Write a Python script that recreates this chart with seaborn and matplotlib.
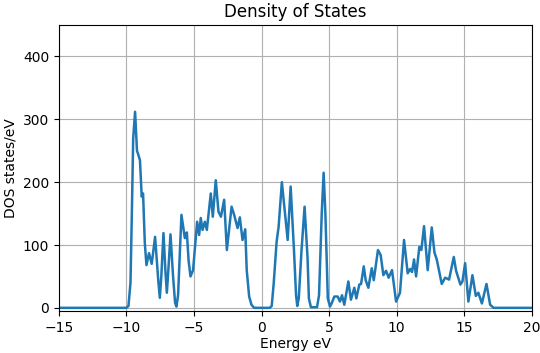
import pandas as pd
import matplotlib
matplotlib.use("Agg")
import matplotlib.pyplot as plt
import seaborn as sns

# energy grid points (eV) and DOS values
energy = [-15.0, -10.0, -9.85, -9.7, -9.6, -9.5, -9.36, -9.22, -9.14, -9.0, -8.87, -8.77,
          -8.64, -8.52, -8.33, -8.13, -7.88, -7.65, -7.53, -7.42, -7.26, -7.12, -7.01,
          -6.90, -6.74, -6.55, -6.40, -6.30, -6.18, -5.93, -5.68, -5.53, -5.40, -5.26,
          -5.07, -4.77, -4.62, -4.50, -4.37, -4.20, -4.05, -3.76, -3.61, -3.39, -3.19,
          -3.01, -2.77, -2.57, -2.22, -2.03, -1.78, -1.61, -1.41, -1.21, -1.10, -0.92,
          -0.75, -0.55, 0.6, 0.75, 0.90, 1.11, 1.26, 1.50, 1.93, 2.15, 2.40, 2.55, 2.64,
          2.75, 2.95, 3.18, 3.40, 3.50, 3.65, 4.10, 4.25, 4.45, 4.59, 4.72, 4.90, 5.06,
          5.20, 5.38, 5.63, 5.80, 5.95, 6.12, 6.42, 6.61, 6.86, 7.01, 7.23, 7.36, 7.56,
          7.70, 7.90, 8.15, 8.30, 8.61, 8.81, 9.01, 9.21, 9.40, 9.65, 9.95, 10.24, 10.54,
          10.81, 10.99, 11.13, 11.28, 11.43, 11.67, 11.82, 12.02, 12.29, 12.59, 12.79,
          12.96, 13.33, 13.58, 13.87, 14.22, 14.39, 14.71, 14.86, 15.06, 15.30, 15.60,
          15.85, 16.04, 16.30, 16.64, 16.91, 17.16, 20.0]
dos = [0, 0, 3, 40, 150, 270, 312, 250, 245, 235, 177, 182,
       103, 68, 87, 70, 113, 45, 16, 50, 119, 60, 24,
       60, 117, 50, 8, 2, 20, 148, 111, 120, 75, 50,
       60, 137, 116, 143, 124, 137, 124, 182, 145, 203, 153,
       145, 172, 92, 161, 148, 127, 144, 108, 125, 60, 18,
       5, 0, 0, 3, 40, 105, 129, 200, 108, 193, 90, 20, 3,
       15, 90, 161, 80, 15, 1, 1, 20, 150, 215, 150, 15, 2,
       8, 18, 18, 10, 20, 5, 42, 13, 32, 15, 37, 38, 66,
       44, 32, 63, 44, 92, 84, 52, 59, 48, 60, 10, 24, 108,
       55, 62, 57, 77, 50, 97, 92, 130, 60, 128, 88,
       77, 38, 48, 45, 81, 59, 37, 42, 71, 10, 52,
       19, 24, 7, 38, 5, 0, 0]

df = pd.DataFrame({"Energy": energy, "DOS": dos})

fig = plt.figure(figsize=(5.4, 3.53), dpi=100)
ax = fig.add_axes([0.109, 0.119, 0.876, 0.81])
sns.lineplot(data=df, x="Energy", y="DOS", color="#1f77b4", linewidth=1.8, ax=ax)

ax.set_xlim(-15, 20)
ax.set_ylim(-5, 450)
ax.set_xticks([-15, -10, -5, 0, 5, 10, 15, 20])
ax.set_yticks([0, 100, 200, 300, 400])
ax.grid(True)
ax.set_title("Density of States")
ax.set_xlabel("Energy eV", labelpad=2)
ax.set_ylabel("DOS states/eV")

fig.savefig("out.png", dpi=100)
